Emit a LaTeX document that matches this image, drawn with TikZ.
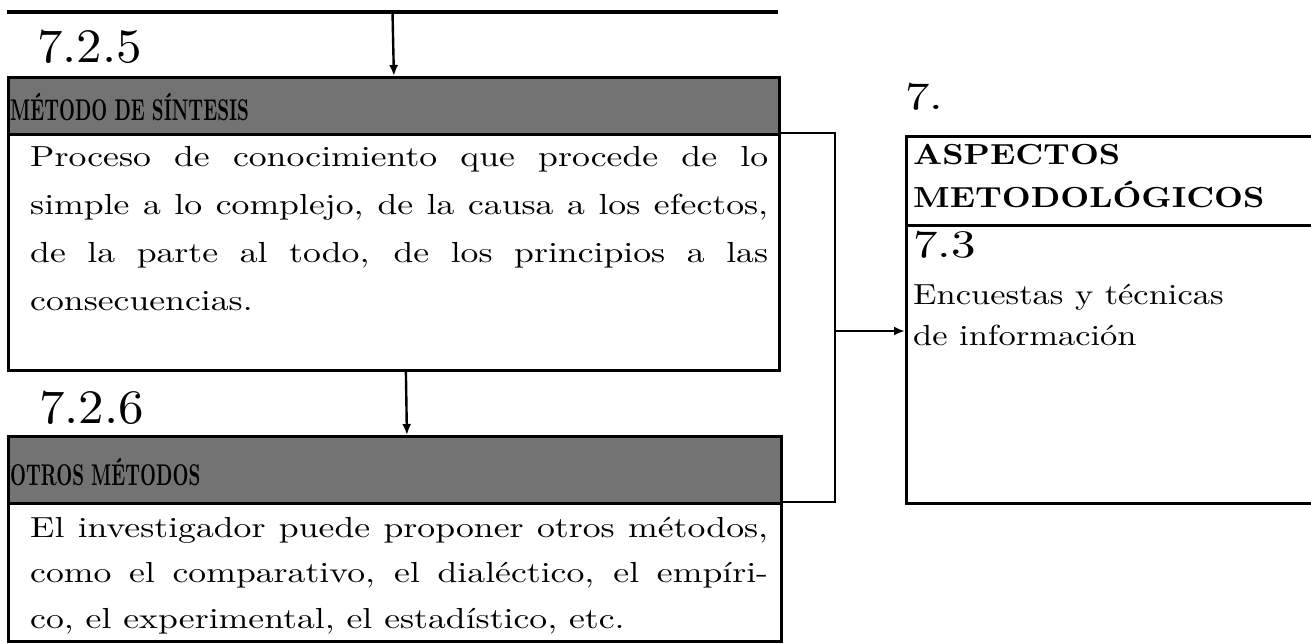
\documentclass[tikz,border=0pt]{standalone}
\usepackage{fontspec}
\usepackage{graphicx}
\usetikzlibrary{arrows.meta}
\newcommand{\stretchtext}[3]{\scalebox{#1}[#2]{#3}}
\begin{document}
\begin{tikzpicture}[x=1pt,y=-1pt,
  frame/.style={draw, line width=2.8pt, inner sep=0pt, anchor=north west},
  hdr/.style={frame, fill=black!55},
  conn/.style={line width=2.8pt},
  arr/.style={line width=2.4pt, -{Latex[length=11pt,width=9pt]}},
  txt/.style={anchor=base west, inner sep=0pt, font=\fontsize{10}{10}\selectfont}
]
\useasboundingbox (0,0) rectangle (1311,644);
% top line and its arrow
\coordinate (tl) at (7,12);
\coordinate (tr) at (778,12);
\coordinate (t) at (392.5,12);
\draw[line width=3.6pt] (tl) -- (tr);

% left column boxes
\node[hdr, minimum width=771pt, minimum height=57pt] (h1) at (7,76) {};
\node[frame, minimum width=771pt, minimum height=236pt] (c1) at (7,133) {};
\node[hdr, minimum width=773pt, minimum height=67pt] (h2) at (7,435) {};
\node[frame, minimum width=773pt, minimum height=138pt] (c2) at (7,502) {};

% right box (runs past the right edge of the picture)
\node[frame, minimum width=460pt, minimum height=89pt] (rt) at (905,135) {};
\node[frame, minimum width=460pt, minimum height=278pt] (rb) at (905,224) {};

% numbers
\node[txt] (n725) at (37,63) {\stretchtext{5.1}{4.8}{7.2.5}};
\node[txt] (n726) at (39,423) {\stretchtext{5.1}{4.8}{7.2.6}};
\node[txt] (n7) at (905,110) {\stretchtext{4.9}{3.9}{7.}};
\node[txt] (n73) at (913,258) {\stretchtext{4.9}{3.9}{7.3}};

% header texts
\node[txt] (t1) at (10,121) {\stretchtext{1.85}{3.0}{\bfseries MÉTODO DE SÍNTESIS}};
\node[txt] (t2) at (10,485) {\stretchtext{1.85}{3.0}{\bfseries OTROS MÉTODOS}};

% body texts
\node[txt] (b1) at (30,167) {\stretchtext{3.57}{2.9}{\parbox[t]{206.7pt}{\parindent=0pt\fontsize{10}{16.45}\selectfont
Proceso de conocimiento que procede de lo\linebreak
simple a lo complejo, de la causa a los efectos,\linebreak
de la parte al todo, de los principios a las\linebreak
consecuencias.}}};
\node[txt] (b2) at (30,537) {\stretchtext{3.57}{2.9}{\parbox[t]{206.7pt}{\parindent=0pt\fontsize{10}{15.85}\selectfont
El investigador puede proponer otros métodos,\linebreak
como el comparativo, el dialéctico, el empíri-\linebreak
co, el experimental, el estadístico, etc.}}};

% right box texts
\node[txt] (a1) at (913,165) {\stretchtext{3.35}{2.9}{\bfseries ASPECTOS}};
\node[txt] (a2) at (913,208) {\stretchtext{3.35}{2.9}{\bfseries METODOLÓGICOS}};
\node[txt] (e1) at (913,305) {\stretchtext{3.45}{2.9}{Encuestas y técnicas}};
\node[txt] (e2) at (913,345) {\stretchtext{3.45}{2.9}{de información}};

% connectors
\coordinate (bx) at (835,0);
\coordinate (ay) at (0,331);
\draw[arr] (t) -- (h1.north);
\draw[arr] ([xshift=12pt]c1.south) -- ([xshift=12pt]h2.north);
\draw[conn] (c1.north east) -- (c1.north east -| bx) -- (c2.north east -| bx) -- (c2.north east);
\draw[arr] (bx |- ay) -- (rb.west |- ay);
\end{tikzpicture}
\end{document}
